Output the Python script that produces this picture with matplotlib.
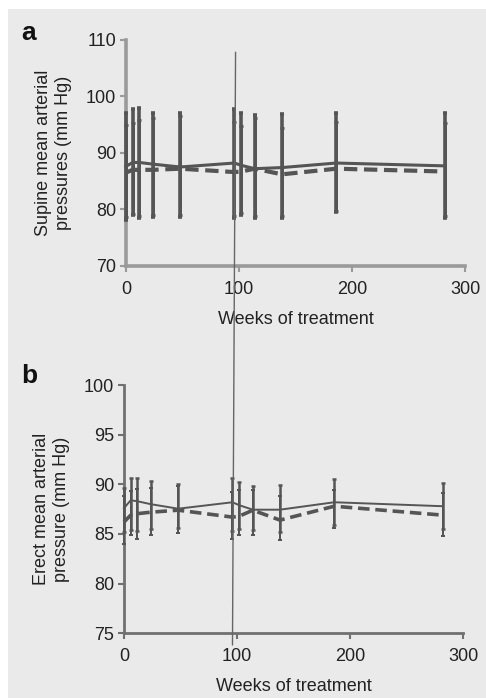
import matplotlib
matplotlib.use("Agg")
import matplotlib.pyplot as plt
from matplotlib.patches import ConnectionPatch, Rectangle

plt.rcParams['font.family'] = ['Liberation Sans', 'DejaVu Sans']

weeks = [0, 6, 12, 24, 48, 96, 102, 114, 138, 186, 282]

# panel a: supine
sup_solid = [87.6, 88.3, 88.3, 88.0, 87.5, 88.2, 87.8, 87.2, 87.4, 88.2, 87.7]
sup_dash = [86.5, 87.0, 87.0, 87.0, 87.2, 86.6, 86.7, 87.2, 86.2, 87.2, 86.7]
sup_solid_hi = [97.0, 97.7, 97.9, 97.0, 97.0, 97.7, 97.0, 96.7, 96.9, 97.1, 97.1]
sup_solid_lo = [78.1, 79.0, 78.4, 78.6, 78.6, 78.4, 79.0, 78.4, 78.4, 79.5, 78.4]
sup_dash_hi = [95.0, 95.3, 95.8, 96.1, 96.5, 95.5, 94.7, 96.1, 94.4, 95.5, 95.3]
sup_dash_lo = [78.6, 79.2, 78.8, 79.0, 79.0, 78.8, 79.3, 78.8, 78.8, 79.8, 78.8]

# panel b: erect
ere_solid = [87.6, 88.4, 88.3, 88.0, 87.55, 88.2, 87.9, 87.45, 87.45, 88.2, 87.8]
ere_dash = [86.2, 86.9, 87.05, 87.2, 87.4, 86.7, 86.8, 87.4, 86.4, 87.8, 86.9]
ere_solid_hi = [89.6, 90.6, 90.6, 90.3, 90.0, 90.6, 90.2, 89.8, 89.9, 90.5, 90.1]
ere_solid_lo = [85.2, 85.4, 85.3, 85.5, 85.6, 85.3, 85.5, 85.4, 85.2, 85.9, 85.5]
ere_dash_hi = [88.8, 89.3, 89.5, 89.6, 89.8, 89.2, 89.4, 89.4, 88.8, 89.4, 89.1]
ere_dash_lo = [84.0, 84.9, 84.5, 84.9, 85.1, 84.5, 84.9, 84.9, 84.35, 85.6, 84.75]

BG = '#eaeaea'
LINE = '#555555'
TXT = '#222222'


def draw_panel(ax, solid, dash, s_hi, s_lo, d_hi, d_lo, lw_err, lw_solid, lw_dash, spine_col, spine_w):
    s_err = [[m - l for m, l in zip(solid, s_lo)], [h - m for m, h in zip(solid, s_hi)]]
    d_err = [[m - l for m, l in zip(dash, d_lo)], [h - m for m, h in zip(dash, d_hi)]]
    ax.errorbar(weeks, solid, yerr=s_err, fmt='none', ecolor=LINE, elinewidth=lw_err,
                capsize=1.5, capthick=lw_err, clip_on=False, zorder=3)
    ax.errorbar(weeks, dash, yerr=d_err, fmt='none', ecolor=LINE, elinewidth=lw_err * 0.8,
                capsize=1.5, capthick=lw_err * 0.8, clip_on=False, zorder=3)
    ax.plot(weeks, solid, '-', color=LINE, lw=lw_solid, zorder=4, clip_on=False)
    ax.plot(weeks, dash, '--', color=LINE, lw=lw_dash, dashes=(3.2, 1.6), zorder=4, clip_on=False)
    ax.set_facecolor(BG)
    for s in ['top', 'right']:
        ax.spines[s].set_visible(False)
    for s in ['left', 'bottom']:
        ax.spines[s].set_color(spine_col)
        ax.spines[s].set_linewidth(spine_w)
    ax.tick_params(colors=spine_col, labelcolor=TXT, labelsize=13, length=4, width=1.5)
    ax.tick_params(axis='y', pad=3)
    ax.tick_params(axis='x', pad=7)
    ax.set_xlim(0, 300)
    ax.set_xticks([0, 100, 200, 300])
    ax.set_xlabel('Weeks of treatment', fontsize=13, color=TXT, labelpad=9)


fig = plt.figure(figsize=(4.86, 6.98), dpi=100)
fig.patch.set_facecolor('white')
fig.add_artist(Rectangle((8 / 486, 0), 1, 1 - 9 / 698, transform=fig.transFigure,
                         facecolor=BG, edgecolor='none', zorder=-10))

ax1 = fig.add_axes([0.259, 0.619, 0.698, 0.324])
draw_panel(ax1, sup_solid, sup_dash, sup_solid_hi, sup_solid_lo, sup_dash_hi, sup_dash_lo,
           2.6, 2.2, 3.0, '#9a9a9a', 2.6)
ax1.set_ylim(70, 110)
ax1.set_yticks([70, 80, 90, 100, 110])
ax1.set_ylabel('Supine mean arterial\npressures (mm Hg)', fontsize=13, color=TXT,
               labelpad=10, linespacing=1.25)

ax2 = fig.add_axes([0.255, 0.093, 0.698, 0.355])
draw_panel(ax2, ere_solid, ere_dash, ere_solid_hi, ere_solid_lo, ere_dash_hi, ere_dash_lo,
           1.8, 1.4, 2.6, '#707070', 2.0)
ax2.set_ylim(75, 100)
ax2.set_yticks([75, 80, 85, 90, 95, 100])
ax2.set_ylabel('Erect mean arterial\npressure (mm Hg)', fontsize=13, color=TXT,
               labelpad=10, linespacing=1.25)

fig.text(21 / 486, 1 - 40 / 698, 'a', fontsize=19, fontweight='bold', color='#111111',
         va='baseline')
fig.text(21 / 486, 1 - 383 / 698, 'b', fontsize=19, fontweight='bold', color='#111111',
         va='baseline')

# scan artifact: thin vertical line through both panels
con = ConnectionPatch(xyA=(97, 107.8), coordsA=ax1.transData,
                      xyB=(96, 73.8), coordsB=ax2.transData,
                      color='#666666', lw=1.0, zorder=5)
fig.add_artist(con)

fig.savefig('out.png', dpi=100, facecolor='white')
